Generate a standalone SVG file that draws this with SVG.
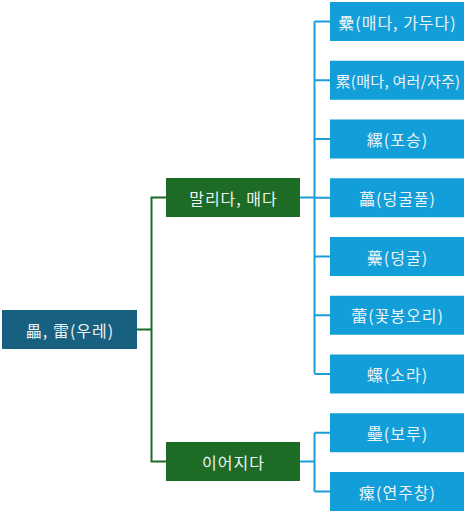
<svg xmlns="http://www.w3.org/2000/svg" width="466" height="513" viewBox="0 0 466 513">
<style>
text{font-family:"Noto Sans CJK KR","Noto Sans",sans-serif;font-size:16px;letter-spacing:1px;fill:#eef3f6;text-anchor:middle;dominant-baseline:central}
text.tight{font-size:15px;letter-spacing:0.3px}
.root{fill:#17607f}
.mid{fill:#1d6b24}
.leaf{fill:#129fd9}
.cg{fill:none;stroke:#1d6b24;stroke-width:2}
.cb{fill:none;stroke:#1a9ed8;stroke-width:2}
</style>
<rect width="466" height="513" fill="#ffffff"/>
<g id="connectors">
<path class="cg" d="M137 329.5H151.5V197.5H166M151.5 329.5V461.5H166"/>
<path class="cb" d="M300 197.5H314.5M314.5 21.5V373.5M314.5 21.5H330M314.5 80.25H330M314.5 139H330M314.5 197.75H330M314.5 256.5H330M314.5 315.25H330M314.5 374H330"/>
<path class="cb" d="M300 461.5H314.5M314.5 432.75V491.5M314.5 432.75H330M314.5 491.5H330"/>
</g>
<g id="root"><rect class="root" x="2" y="310" width="135" height="39"/><text x="70" y="329.5">畾, 雷(우레)</text></g>
<g id="m1"><rect class="mid" x="166" y="178" width="134" height="39"/><text x="233.5" y="197.5">말리다, 매다</text></g>
<g id="m2"><rect class="mid" x="166" y="442" width="134" height="39"/><text x="233.5" y="461.5">이어지다</text></g>
<g id="l1"><rect class="leaf" x="330" y="2" width="134" height="39"/><text x="397.5" y="21.5">纍(매다, 가두다)</text></g>
<g id="l2"><rect class="leaf" x="330" y="60.75" width="134" height="39"/><text class="tight" x="398" y="80.25">累(매다, 여러/자주)</text></g>
<g id="l3"><rect class="leaf" x="330" y="119.5" width="134" height="39"/><text x="397.5" y="139">縲(포승)</text></g>
<g id="l4"><rect class="leaf" x="330" y="178.25" width="134" height="39"/><text x="397.5" y="197.75">藟(덩굴풀)</text></g>
<g id="l5"><rect class="leaf" x="330" y="237" width="134" height="39"/><text x="397.5" y="256.5">虆(덩굴)</text></g>
<g id="l6"><rect class="leaf" x="330" y="295.75" width="134" height="39"/><text x="397.5" y="315.25">蕾(꽃봉오리)</text></g>
<g id="l7"><rect class="leaf" x="330" y="354.5" width="134" height="39"/><text x="397.5" y="374">螺(소라)</text></g>
<g id="l8"><rect class="leaf" x="330" y="413.25" width="134" height="39"/><text x="397.5" y="432.75">壘(보루)</text></g>
<g id="l9"><rect class="leaf" x="330" y="472" width="134" height="39"/><text x="397.5" y="491.5">瘰(연주창)</text></g>
</svg>
